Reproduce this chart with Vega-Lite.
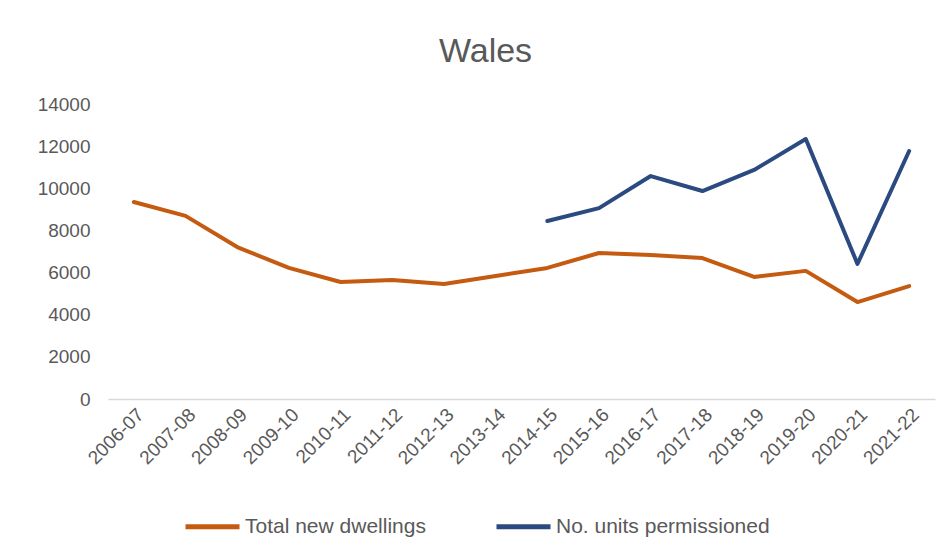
{
  "$schema": "https://vega.github.io/schema/vega-lite/v6.json",
  "width": 827,
  "height": 295,
  "autosize": {"type": "none"},
  "padding": {"left": 108, "top": 104, "right": 16, "bottom": 159},
  "background": "white",
  "config": {
    "font": "Liberation Sans",
    "view": {"stroke": null}
  },
  "title": {
    "text": "Wales",
    "fontSize": 34,
    "font": "Liberation Sans",
    "fontWeight": "normal",
    "color": "#595959",
    "anchor": "middle",
    "dx": -36,
    "offset": 26
  },
  "data": {
    "values": [
      {"year": "2006-07", "series": "Total new dwellings", "value": 9350},
      {"year": "2007-08", "series": "Total new dwellings", "value": 8690},
      {"year": "2008-09", "series": "Total new dwellings", "value": 7210},
      {"year": "2009-10", "series": "Total new dwellings", "value": 6220},
      {"year": "2010-11", "series": "Total new dwellings", "value": 5550},
      {"year": "2011-12", "series": "Total new dwellings", "value": 5650},
      {"year": "2012-13", "series": "Total new dwellings", "value": 5460},
      {"year": "2013-14", "series": "Total new dwellings", "value": 5840},
      {"year": "2014-15", "series": "Total new dwellings", "value": 6220},
      {"year": "2015-16", "series": "Total new dwellings", "value": 6930},
      {"year": "2016-17", "series": "Total new dwellings", "value": 6830},
      {"year": "2017-18", "series": "Total new dwellings", "value": 6690},
      {"year": "2018-19", "series": "Total new dwellings", "value": 5790},
      {"year": "2019-20", "series": "Total new dwellings", "value": 6080},
      {"year": "2020-21", "series": "Total new dwellings", "value": 4600},
      {"year": "2021-22", "series": "Total new dwellings", "value": 5360},
      {"year": "2014-15", "series": "No. units permissioned", "value": 8450},
      {"year": "2015-16", "series": "No. units permissioned", "value": 9060},
      {"year": "2016-17", "series": "No. units permissioned", "value": 10580},
      {"year": "2017-18", "series": "No. units permissioned", "value": 9870},
      {"year": "2018-19", "series": "No. units permissioned", "value": 10870},
      {"year": "2019-20", "series": "No. units permissioned", "value": 12340},
      {"year": "2020-21", "series": "No. units permissioned", "value": 6410},
      {"year": "2021-22", "series": "No. units permissioned", "value": 11770}
    ]
  },
  "mark": {"type": "line", "strokeWidth": 4, "strokeJoin": "round", "strokeCap": "round"},
  "encoding": {
    "x": {
      "field": "year",
      "type": "ordinal",
      "title": null,
      "scale": {"paddingInner": 0, "paddingOuter": 0.5},
      "axis": {
        "labelAngle": -45,
        "labelFontSize": 19,
        "labelColor": "#595959",
        "ticks": false,
        "domainColor": "#D9D9D9",
        "domainWidth": 1.5,
        "labelPadding": 6,
        "grid": false
      }
    },
    "y": {
      "field": "value",
      "type": "quantitative",
      "title": null,
      "scale": {"domain": [0, 14000]},
      "axis": {
        "values": [0, 2000, 4000, 6000, 8000, 10000, 12000, 14000],
        "format": "d",
        "labelFontSize": 19,
        "labelColor": "#595959",
        "ticks": false,
        "domain": false,
        "grid": false,
        "labelPadding": 18
      }
    },
    "color": {
      "field": "series",
      "type": "nominal",
      "sort": ["Total new dwellings", "No. units permissioned"],
      "scale": {
        "domain": ["Total new dwellings", "No. units permissioned"],
        "range": ["#C55A11", "#2A4A80"]
      },
      "legend": {
        "title": null,
        "orient": "none",
        "direction": "horizontal",
        "legendX": 75,
        "legendY": 393,
        "symbolType": "stroke",
        "symbolSize": 2916,
        "symbolStrokeWidth": 5,
        "labelFontSize": 21,
        "labelColor": "#595959",
        "labelOffset": 3,
        "columnPadding": 60,
        "labelLimit": 400
      }
    }
  }
}
